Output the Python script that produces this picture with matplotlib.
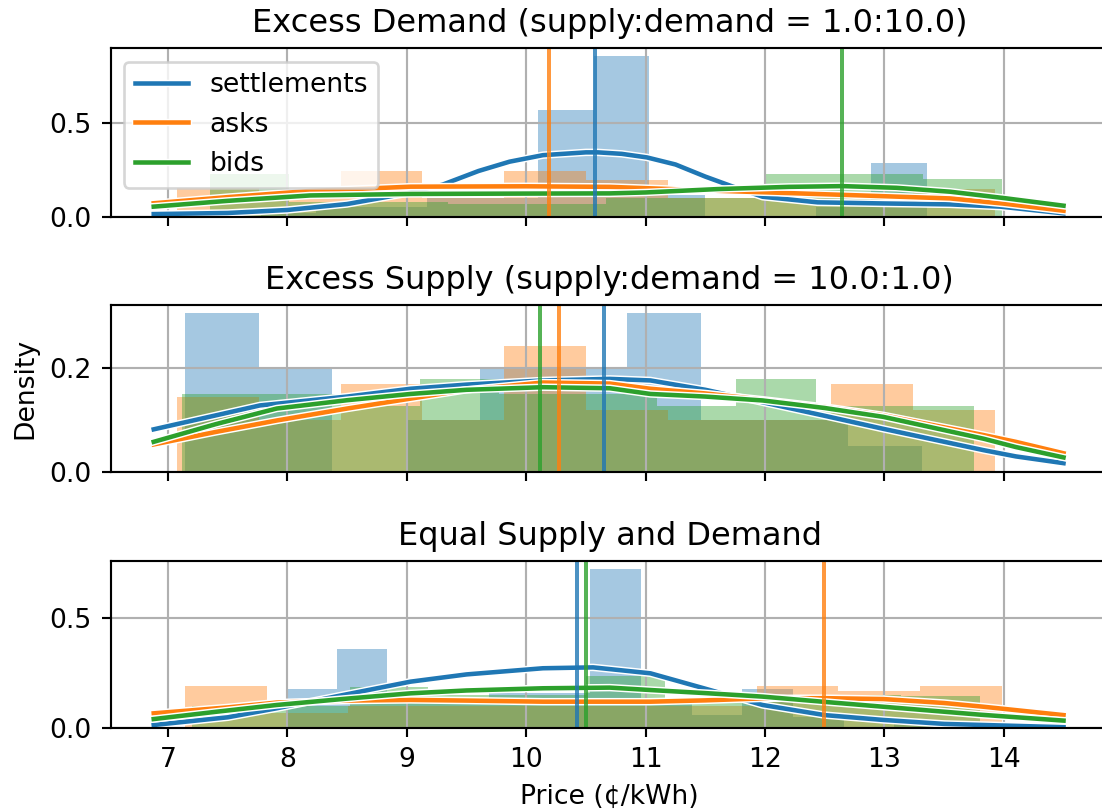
import matplotlib
matplotlib.use("Agg")
import matplotlib.pyplot as plt
import matplotlib.patheffects as pe
import numpy as np

# ---------------- data ----------------
titles = ["Excess Demand (supply:demand = 1.0:10.0)",
          "Excess Supply (supply:demand = 10.0:1.0)",
          "Equal Supply and Demand"]
series = ["settlements", "asks", "bids"]
colors = ["C0", "C1", "C2"]

# histogram bin edges / densities per panel and series
# panel 0: Excess Demand
ed_settle_edges = [7.31, 7.775, 8.24, 8.705, 9.17, 9.635, 10.10, 10.565, 11.03, 11.495, 11.96, 12.425, 12.89, 13.355]
ed_settle_dens = [0.0, 0.02, 0.05, 0.05, 0.10, 0.10, 0.571, 0.862, 0.116, 0.0, 0.0, 0.05, 0.287]
ed_asks_edges = [7.075, 7.76, 8.445, 9.13, 9.815, 10.50, 11.185, 11.87, 12.555, 13.24, 13.925]
ed_asks_dens = [0.152, 0.10, 0.245, 0.10, 0.245, 0.196, 0.098, 0.098, 0.10, 0.148]
ed_bids_edges = [7.352, 8.015, 8.678, 9.341, 10.004, 10.667, 11.330, 11.993, 12.656, 13.319, 13.982]
ed_bids_dens = [0.227, 0.08, 0.08, 0.07, 0.07, 0.10, 0.10, 0.228, 0.228, 0.20]

# panel 1: Excess Supply
es_settle_edges = [7.142, 7.759, 8.376, 8.993, 9.610, 10.227, 10.844, 11.461, 12.078, 12.695, 13.312]
es_settle_dens = [0.306, 0.2025, 0.0, 0.10, 0.20, 0.20, 0.306, 0.10, 0.10, 0.05]
es_asks_edges = [7.075, 7.76, 8.445, 9.13, 9.815, 10.50, 11.185, 11.87, 12.555, 13.24, 13.925]
es_asks_dens = [0.145, 0.10, 0.169, 0.10, 0.243, 0.12, 0.10, 0.10, 0.169, 0.12]
es_bids_edges = [7.120, 7.783, 8.446, 9.109, 9.772, 10.435, 11.098, 11.761, 12.424, 13.087, 13.750]
es_bids_dens = [0.150, 0.150, 0.126, 0.178, 0.15, 0.15, 0.126, 0.178, 0.126, 0.126]

# panel 2: Equal Supply and Demand
eq_settle_edges = [7.139, 7.564, 7.988, 8.413, 8.837, 9.262, 9.687, 10.111, 10.536, 10.960,
                   11.385, 11.810, 12.234, 12.659, 13.083, 13.508, 13.933]
eq_settle_dens = [0.0, 0.0, 0.179, 0.36, 0.12, 0.12, 0.16, 0.16, 0.724, 0.12, 0.06, 0.179, 0.05, 0.0, 0.03, 0.0]
eq_asks_edges = [7.142, 7.826, 8.510, 9.194, 9.878, 10.562, 11.246, 11.930, 12.614, 13.298, 13.982]
eq_asks_dens = [0.192, 0.071, 0.10, 0.10, 0.10, 0.10, 0.10, 0.192, 0.170, 0.192]
eq_bids_edges = [7.20, 7.86, 8.52, 9.18, 9.84, 10.50, 11.16, 11.82, 12.48, 13.14, 13.80]
eq_bids_dens = [0.10, 0.10, 0.19, 0.15, 0.15, 0.24, 0.12, 0.15, 0.15, 0.145]

# KDE curves (x, density)
ed_settle_kde_x = [6.88, 7.5, 8.0, 8.5, 9.0, 9.3, 9.6, 9.86, 10.14, 10.5, 10.6, 10.8, 11.01, 11.25, 11.5, 11.71, 11.98, 12.44, 12.99, 13.55, 13.97, 14.50]
ed_settle_kde_y = [0.014, 0.020, 0.036, 0.068, 0.125, 0.172, 0.245, 0.295, 0.330, 0.345, 0.345, 0.337, 0.318, 0.280, 0.215, 0.166, 0.107, 0.077, 0.071, 0.066, 0.054, 0.018]
ed_asks_kde_x = [6.88, 7.5, 8.19, 9.03, 10.0, 10.70, 11.6, 12.71, 13.55, 14.0, 14.50]
ed_asks_kde_y = [0.072, 0.105, 0.138, 0.161, 0.163, 0.160, 0.139, 0.116, 0.098, 0.070, 0.032]
ed_bids_kde_x = [6.88, 7.5, 8.19, 9.03, 10.0, 10.70, 11.0, 11.6, 12.2, 12.65, 13.1, 13.55, 14.0, 14.50]
ed_bids_kde_y = [0.054, 0.085, 0.114, 0.122, 0.124, 0.125, 0.130, 0.148, 0.160, 0.164, 0.155, 0.134, 0.100, 0.059]

es_settle_kde_x = [6.88, 7.77, 8.5, 9.03, 9.5, 10.14, 10.70, 11.04, 11.5, 11.98, 12.5, 12.99, 13.83, 14.1, 14.50]
es_settle_kde_y = [0.082, 0.128, 0.145, 0.160, 0.168, 0.176, 0.179, 0.176, 0.158, 0.134, 0.108, 0.083, 0.042, 0.030, 0.017]
es_asks_kde_x = [6.88, 7.4, 7.91, 8.5, 9.03, 9.5, 10.14, 10.70, 11.04, 11.5, 11.98, 12.5, 12.99, 13.83, 14.1, 14.50]
es_asks_kde_y = [0.053, 0.077, 0.099, 0.122, 0.141, 0.158, 0.172, 0.170, 0.160, 0.151, 0.139, 0.125, 0.109, 0.071, 0.058, 0.036]
es_bids_kde_x = [6.88, 7.4, 7.91, 8.5, 9.03, 9.5, 10.14, 10.70, 11.04, 11.5, 11.98, 12.5, 12.99, 13.83, 14.1, 14.50]
es_bids_kde_y = [0.058, 0.092, 0.122, 0.138, 0.150, 0.158, 0.163, 0.161, 0.150, 0.145, 0.1375, 0.123, 0.106, 0.064, 0.048, 0.028]

eq_settle_kde_x = [6.88, 7.5, 7.91, 8.5, 9.03, 9.5, 10.14, 10.56, 11.04, 11.5, 11.98, 12.5, 12.99, 13.5, 14.50]
eq_settle_kde_y = [0.015, 0.050, 0.091, 0.155, 0.212, 0.245, 0.273, 0.277, 0.250, 0.180, 0.106, 0.060, 0.038, 0.020, 0.005]
eq_asks_kde_x = [6.88, 7.5, 7.91, 8.5, 9.03, 9.5, 10.14, 10.70, 11.04, 11.5, 11.98, 12.5, 12.99, 13.5, 13.83, 14.50]
eq_asks_kde_y = [0.068, 0.095, 0.117, 0.126, 0.129, 0.126, 0.121, 0.121, 0.121, 0.127, 0.136, 0.137, 0.133, 0.115, 0.098, 0.060]
eq_bids_kde_x = [6.88, 7.4, 7.91, 8.5, 9.03, 9.5, 10.14, 10.70, 11.04, 11.5, 11.98, 12.5, 12.99, 13.8, 14.50]
eq_bids_kde_y = [0.042, 0.075, 0.106, 0.135, 0.159, 0.172, 0.182, 0.185, 0.174, 0.160, 0.144, 0.120, 0.098, 0.062, 0.035]

# mean prices (vertical lines)
ed_means = [10.58, 10.19, 12.647]
es_means = [10.654, 10.275, 10.116]
eq_means = [10.423, 12.49, 10.50]

y_ticks = [[0.0, 0.5], [0.0, 0.2], [0.0, 0.5]]
y_limits = [(0, 0.903), (0, 0.321), (0, 0.762)]
x_ticks = [7, 8, 9, 10, 11, 12, 13, 14]
x_limits = (6.518, 14.88)

panels = [
    dict(edges=[ed_settle_edges, ed_asks_edges, ed_bids_edges],
         dens=[ed_settle_dens, ed_asks_dens, ed_bids_dens],
         kx=[ed_settle_kde_x, ed_asks_kde_x, ed_bids_kde_x],
         ky=[ed_settle_kde_y, ed_asks_kde_y, ed_bids_kde_y],
         means=ed_means),
    dict(edges=[es_settle_edges, es_asks_edges, es_bids_edges],
         dens=[es_settle_dens, es_asks_dens, es_bids_dens],
         kx=[es_settle_kde_x, es_asks_kde_x, es_bids_kde_x],
         ky=[es_settle_kde_y, es_asks_kde_y, es_bids_kde_y],
         means=es_means),
    dict(edges=[eq_settle_edges, eq_asks_edges, eq_bids_edges],
         dens=[eq_settle_dens, eq_asks_dens, eq_bids_dens],
         kx=[eq_settle_kde_x, eq_asks_kde_x, eq_bids_kde_x],
         ky=[eq_settle_kde_y, eq_asks_kde_y, eq_bids_kde_y],
         means=eq_means),
]

# ---------------- figure ----------------
DPI = 192
fig = plt.figure(figsize=(1102 / DPI, 810 / DPI), dpi=DPI)
W, H = 1102.0, 810.0
ax_rects = [(110.5, 48.3, 216.7), (110.5, 305.0, 472.0), (110.5, 560.7, 728.3)]
axes = []
for i, (l, t, b) in enumerate(ax_rects):
    ax = fig.add_axes([l / W, (H - b) / H, 998.4 / W, (b - t) / H],
                      sharex=axes[0] if axes else None)
    axes.append(ax)

outline = [pe.Stroke(linewidth=2.8, foreground="white"), pe.Normal()]
for i, (ax, p) in enumerate(zip(axes, panels)):
    for s in range(3):
        e = np.asarray(p["edges"][s])
        d = np.asarray(p["dens"][s])
        ax.bar(e[:-1], d, width=np.diff(e), align="edge", color=colors[s],
               alpha=0.4, linewidth=0)
    for s in range(3):
        ax.plot(p["kx"][s], p["ky"][s], color=colors[s], lw=1.7,
                path_effects=outline, label=series[s], solid_joinstyle="round")
    for s in range(3):
        ax.axvline(p["means"][s], color=colors[s], lw=1.5, alpha=0.8)
    ax.set_title(titles[i], fontsize=12)
    ax.set_ylim(*y_limits[i])
    ax.set_yticks(y_ticks[i])
    ax.set_xlim(*x_limits)
    ax.set_xticks(x_ticks)
    ax.grid(True, color="#b0b0b0", lw=0.8)
    ax.tick_params(labelsize=10)
    if i < 2:
        ax.tick_params(labelbottom=False)

axes[0].legend(loc="upper left", fontsize=10)
axes[1].set_ylabel("Density", fontsize=10)
axes[2].set_xlabel("Price (¢/kWh)", fontsize=10)

fig.savefig("out.png", dpi=DPI)
